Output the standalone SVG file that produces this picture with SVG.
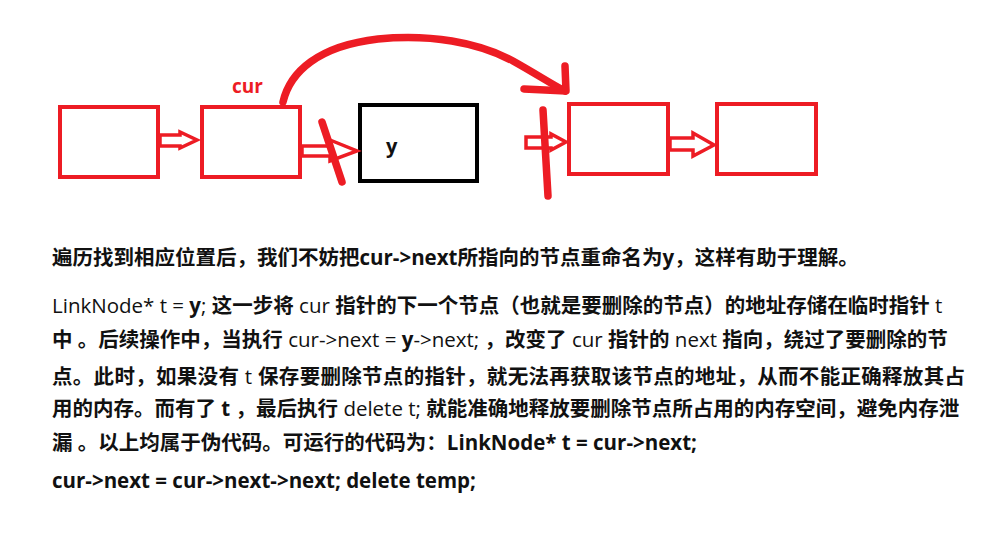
<svg xmlns="http://www.w3.org/2000/svg" width="983" height="534" viewBox="0 0 983 534">
<style>
.rbox{fill:none;stroke:#ed1c24;stroke-width:4}
.kbox{fill:none;stroke:#000;stroke-width:4}
.harrow{fill:#fff;stroke:#ed1c24;stroke-width:3.5;stroke-linejoin:miter}
.ink{fill:none;stroke:#ed1c24;stroke-width:7.5;stroke-linecap:round;stroke-linejoin:round}
.t{font-family:"Open Sans","Noto Sans CJK SC",sans-serif;font-size:20.5px;fill:#111}
.b{font-weight:bold}
.r{font-weight:normal}
</style>
<rect width="983" height="534" fill="#fff"/>
<g id="node1"><rect class="rbox" x="60" y="107" width="98" height="70"/></g>
<g id="node-cur"><rect class="rbox" x="202" y="107" width="98" height="70"/>
<text x="232" y="93" font-family="Open Sans, sans-serif" font-size="19" font-weight="bold" fill="#ed1c24">cur</text></g>
<g id="node-y"><rect class="kbox" x="360" y="105" width="117" height="76"/>
<text x="386" y="153" font-family="Open Sans, sans-serif" font-size="20" font-weight="bold" fill="#111">y</text></g>
<g id="node4"><rect class="rbox" x="569" y="104" width="99" height="70"/></g>
<g id="node5"><rect class="rbox" x="717" y="104" width="99" height="70"/></g>
<g id="connectors">
<polygon class="harrow" points="160,135 180,135 180,132 197,140 180,148 180,146 160,146"/>
<polygon class="harrow" points="302,146 330,146 330,140 357,151 330,161 330,156 302,156"/>
<polygon class="harrow" points="526,137 551,137 551,134 566,142 551,150 551,148 526,148"/>
<polygon class="harrow" points="670,138 693,138 693,133 714,145 693,156 693,150 670,150"/>
<path class="ink" d="M322,122 L342,182"/>
<path class="ink" d="M543,110 L548,196"/>
<path class="ink" d="M283,102 C290,72 318,46 378,39 C430,34 478,42 513,61 C538,75 553,85 565,91"/>
<path class="ink" d="M565,66 L566,91 L524,89"/>
</g>
<g id="text">
<text class="t b" x="52" y="265">遍历找到相应位置后，我们不妨把cur-&gt;next所指向的节点重命名为y，这样有助于理解。</text>
<text class="t" x="52" y="313"><tspan class="r">LinkNode* t = </tspan><tspan class="b">y</tspan><tspan class="r">; </tspan><tspan class="b">这一步将 </tspan><tspan class="r">cur </tspan><tspan class="b">指针的下一个节点（也就是要删除的节点）的地址存储在临时指针 </tspan><tspan class="r">t</tspan></text>
<text class="t" x="52" y="347"><tspan class="b">中 。后续操作中，当执行 </tspan><tspan class="r">cur-&gt;next = </tspan><tspan class="b">y</tspan><tspan class="r">-&gt;next; </tspan><tspan class="b">，改变了 </tspan><tspan class="r">cur </tspan><tspan class="b">指针的 </tspan><tspan class="r">next </tspan><tspan class="b">指向，绕过了要删除的节</tspan></text>
<text class="t" x="52" y="384" letter-spacing="0.3"><tspan class="b">点。此时，如果没有 </tspan><tspan class="r">t </tspan><tspan class="b">保存要删除节点的指针，就无法再获取该节点的地址，从而不能正确释放其占</tspan></text>
<text class="t" x="52" y="416"><tspan class="b">用的内存。而有了 t ，最后执行 </tspan><tspan class="r">delete t; </tspan><tspan class="b">就能准确地释放要删除节点所占用的内存空间，避免内存泄</tspan></text>
<text class="t b" x="52" y="450">漏 。以上均属于伪代码。可运行的代码为：LinkNode* t = cur-&gt;next;</text>
<text class="t b" x="52" y="488">cur-&gt;next = cur-&gt;next-&gt;next; delete temp;</text>
</g>
</svg>
